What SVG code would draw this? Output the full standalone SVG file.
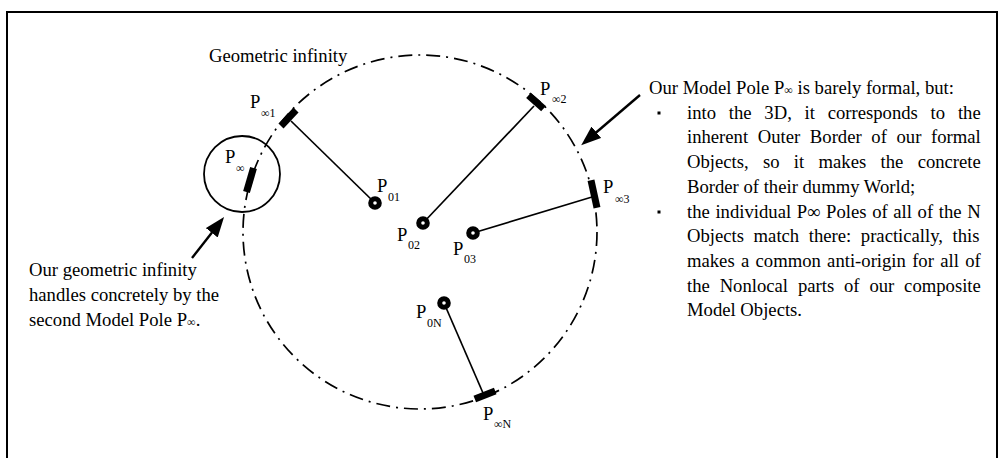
<svg xmlns="http://www.w3.org/2000/svg" width="1000" height="458" viewBox="0 0 1000 458">
<style>
text{font-family:"Liberation Serif","Times New Roman",serif;fill:#000}
.t{font-size:18.67px}
.p{font-size:18.67px}
.s{font-size:12px}
.conn{stroke:#000;stroke-width:1.7;fill:none}
.mk{stroke:#000;stroke-width:7;stroke-linecap:butt}
.dot{fill:#fff;stroke:#000;stroke-width:5}
.arr{stroke:#000;stroke-width:2.4;fill:none}
</style>
<defs>
<marker id="ah" markerUnits="userSpaceOnUse" markerWidth="20" markerHeight="15" refX="15" refY="7.5" orient="auto">
<path d="M0,0 L20,7.5 L0,15 z" fill="#000"/>
</marker>
</defs>
<rect x="7" y="12" width="990" height="452" fill="#fff" stroke="#000" stroke-width="2"/>

<g id="infinity-circle">
<circle cx="420" cy="232" r="177" fill="none" stroke="#000" stroke-width="1.7" stroke-dasharray="14 6 2 6"/>
<text class="t" x="209" y="62">Geometric infinity</text>
</g>

<g id="connectors">
<line class="conn" x1="291" y1="121" x2="375" y2="203"/>
<line class="conn" x1="534" y1="106" x2="423" y2="223"/>
<line class="conn" x1="592" y1="197" x2="473" y2="233"/>
<line class="conn" x1="483" y1="393" x2="444" y2="303"/>
<line class="arr" x1="192" y1="258" x2="221" y2="221" marker-end="url(#ah)"/>
<line class="arr" x1="640" y1="95" x2="585" y2="142" marker-end="url(#ah)"/>
</g>

<g id="pole-inf">
<circle cx="242" cy="174" r="38" fill="none" stroke="#000" stroke-width="1.8"/>
<line class="mk" x1="253.5" y1="168" x2="246.5" y2="192"/>
<text class="p" x="225" y="163">P</text><text class="s" x="236" y="172">∞</text>
</g>

<g id="pole-inf1">
<line class="mk" x1="281" y1="126" x2="296" y2="110"/>
<text class="p" x="250" y="108">P</text><text class="s" x="261" y="117">∞1</text>
</g>

<g id="pole-inf2">
<line class="mk" x1="528.5" y1="95.3" x2="543.5" y2="108.7"/>
<text class="p" x="540" y="95">P</text><text class="s" x="552" y="103">∞2</text>
</g>

<g id="pole-inf3">
<line class="mk" x1="591" y1="180.3" x2="597" y2="207.7"/>
<text class="p" x="603" y="193">P</text><text class="s" x="615" y="203">∞3</text>
</g>

<g id="pole-infN">
<line class="mk" x1="474.8" y1="399" x2="495.2" y2="391"/>
<text class="p" x="483" y="420">P</text><text class="s" x="494" y="428">∞N</text>
</g>

<g id="pole-01">
<circle class="dot" cx="375" cy="203" r="4.3"/>
<text class="p" x="377" y="192">P</text><text class="s" x="388" y="201">01</text>
</g>
<g id="pole-02">
<circle class="dot" cx="423" cy="223" r="4.3"/>
<text class="p" x="397" y="241">P</text><text class="s" x="408" y="249">02</text>
</g>
<g id="pole-03">
<circle class="dot" cx="473" cy="233" r="4.3"/>
<text class="p" x="453" y="255">P</text><text class="s" x="464" y="263">03</text>
</g>
<g id="pole-0N">
<circle class="dot" cx="444" cy="303" r="4.3"/>
<text class="p" x="416" y="318">P</text><text class="s" x="427" y="327">0N</text>
</g>

<g id="note-left">
<text class="t" x="29" y="276">Our geometric infinity</text>
<text class="t" x="29" y="301">handles concretely by the</text>
<text class="t" x="29" y="326">second Model Pole P<tspan class="s">∞</tspan>.</text>
</g>

<g id="note-right">
<text class="t" x="649" y="94">Our Model Pole P<tspan class="s">∞</tspan> is barely formal, but:</text>
<rect x="657.5" y="111.5" width="3" height="3" fill="#000"/>
<text class="t" x="687" y="118.7" word-spacing="8.1">into the 3D, it corresponds to the</text>
<text class="t" x="687" y="143.4" word-spacing="4.97">inherent Outer Border of our formal</text>
<text class="t" x="687" y="168.1" word-spacing="9.65">Objects, so it makes the concrete</text>
<text class="t" x="687" y="192.8">Border of their dummy World;</text>
<rect x="657.5" y="210.5" width="3" height="3" fill="#000"/>
<text class="t" x="687" y="217.5" word-spacing="0.98">the individual P∞ Poles of all of the N</text>
<text class="t" x="687" y="242.2" word-spacing="4.93">Objects match there: practically, this</text>
<text class="t" x="687" y="266.9" word-spacing="1.63">makes a common anti-origin for all of</text>
<text class="t" x="687" y="291.6" word-spacing="5.19">the Nonlocal parts of our composite</text>
<text class="t" x="687" y="316.3">Model Objects.</text>
</g>
</svg>
